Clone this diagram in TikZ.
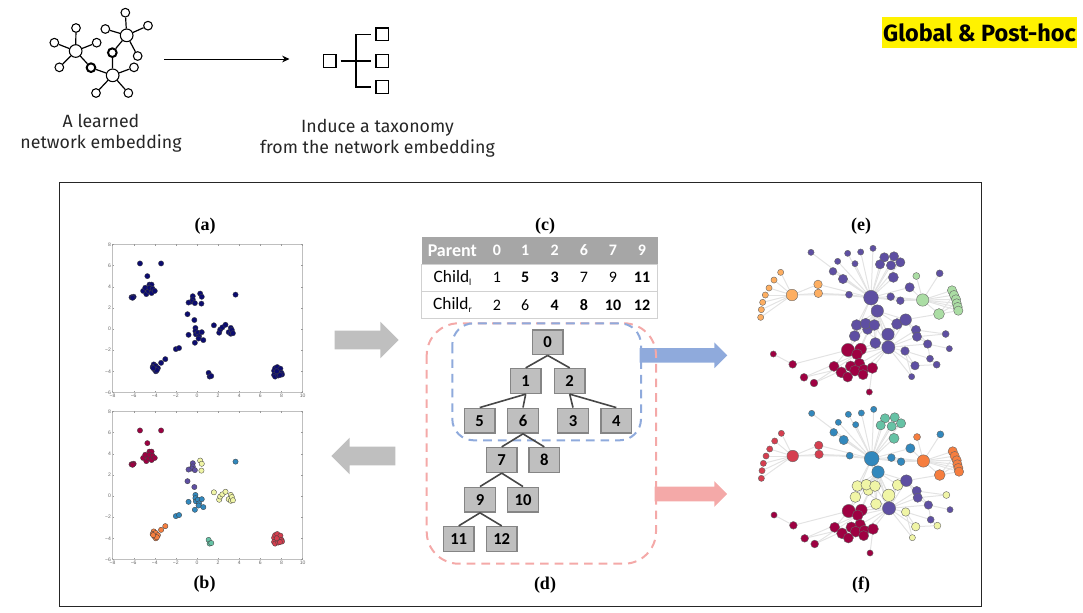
\documentclass[tikz,border=0pt]{standalone}
\usepackage{fontspec}
\setmainfont{Fira Sans}
\newfontfamily\tablefont{Carlito}
\newfontfamily\capfont{Liberation Serif}
\newfontfamily\tickfont{Liberation Sans}
\usetikzlibrary{arrows.meta,shapes.arrows,backgrounds}

\definecolor{crimson}{HTML}{9E0142}
\definecolor{redc}{HTML}{D53E4F}
\definecolor{orangec}{HTML}{F67E3F}
\definecolor{lightorange}{HTML}{FDAE61}
\definecolor{paleyellow}{HTML}{F0F5A6}
\definecolor{lightgreen}{HTML}{ABDDA4}
\definecolor{teal}{HTML}{66C2A5}
\definecolor{bluec}{HTML}{3288BD}
\definecolor{purplec}{HTML}{5E4FA2}
\definecolor{navyc}{HTML}{0C0C70}
\definecolor{boxblue}{HTML}{8FAADC}
\definecolor{boxpink}{HTML}{F4A9A8}

\tikzset{
    iconhub/.style={circle, draw=black, line width=0.8pt, fill=white, inner sep=0pt, minimum size=9.5pt},
    iconleaf/.style={iconhub, minimum size=6.5pt},
    iconbold/.style={iconleaf, line width=1.5pt},
    iconbox/.style={rectangle, draw=black, line width=0.9pt, inner sep=0pt, minimum size=9.5pt},
    iconline/.style={black, line width=0.9pt},
    headtext/.style={align=center, font=\fontsize{13.3}{15.75}\selectfont, text=black!85},
    figlabel/.style={font=\capfont\bfseries\fontsize{13.5}{15}\selectfont},
    tick/.style={font=\tickfont\fontsize{3.8}{4}\selectfont, text=black!60, inner sep=1pt},
    dot/.style={draw=black!75, line width=0.25pt},
    bigarrow/.style={single arrow, single arrow head extend=6.75pt, single arrow tip angle=90,
        inner xsep=0pt, inner ysep=6.75pt, minimum height=48pt, fill=black!25, draw=none, anchor=tail},
    colarrow/.style={bigarrow, single arrow head extend=4.2pt, inner ysep=5.25pt},
    treebox/.style={rectangle, draw=black!48, line width=1.2pt, fill=black!25, inner sep=0pt,
        minimum width=23pt, minimum height=18.5pt, font=\tablefont\bfseries\fontsize{12.5}{13}\selectfont},
    treeedge/.style={black!72, line width=1.2pt},
    dashbox/.style={dash pattern=on 6.5pt off 4.5pt, line width=1.5pt},
    cell/.style={font=\tablefont\fontsize{12}{13}\selectfont, inner sep=0pt},
    netnode/.style={circle, draw=black!60, line width=0.3pt, inner sep=0pt},
    netedge/.style={black!11, line width=0.75pt},
}

% Scatter points, one list for each class
\newcommand{\clusterA}{(-5.4,6.2),(-3.4,6.2),(-4.7,5),(-6.2,3),(-6,3.05),(-6.1,2.95),(-5.1,3.6),(-4.9,3.9),(-4.8,3.3),(-4.6,3.6),(-4.5,4.2),(-4.3,4.2),(-4.5,3.9),(-4.3,3.4),(-4.2,3.8),(-4,3.6)}
\newcommand{\clusterB}{(-0.4,3.1),(-0.4,2.8),(-0.5,2.6),(-0.8,2.5),(-0.2,2.45),(-0.9,1.4),(-0.25,0.85)}
\newcommand{\clusterC}{(0.3,3.35),(0.45,3.05),(0.42,2.4),(1.6,0.35),(2.1,-0.35),(2.2,-0.05),(2.4,0.15),(2.7,0.4),(3,-0.3),(3.2,0.1),(3.2,-0.45),(3.3,-0.1),(3.4,-0.4)}
\newcommand{\clusterD}{(3.65,3.25),(-0.8,-0.55),(-0.15,0.1),(-0.15,-0.2),(-0.1,-0.5),(0.1,-0.35),(0.45,-0.3),(0.2,-0.7),(0.15,-0.9),(0.6,-1.05),(-0.2,-1.3),(-2,-1.9),(-1.7,-1.8)}
\newcommand{\clusterE}{(-3,-2.85),(-3.4,-3.2),(-4.1,-3.35),(-4.2,-3.6),(-3.9,-3.5),(-3.7,-3.7),(-4,-3.85),(-3.9,-4),(-3.8,-3.9),(-4.15,-3.7)}
\newcommand{\clusterF}{(1.1,-4.15),(1.2,-4.5),(1.35,-4.45)}
\newcommand{\clusterG}{(7.3,-3.95),(7.4,-3.7),(7.6,-3.6),(7.9,-3.75),(8,-4.15),(8.05,-4.3),(7.3,-4.35),(7.4,-4.5),(7.7,-4.4),(7.85,-4.35),(7.55,-4)}

% #1 is the prefix of the names, #2 the y of the origin, #3 to #9 the colours of the classes
\newcommand{\drawscatter}[9]{
    \begin{scope}[shift={(197,#2)}, x=7.92pt, y=7.93pt]
        \draw[black!25, line width=0.7pt] (-8,-6) rectangle (10,8);
        \foreach \x in {-8,-6,-4,-2,0,2,4,6,8,10}{
            \draw[black!40, line width=0.2pt] (\x,-6) -- (\x,-5.85);
            \draw[black!40, line width=0.2pt] (\x,8) -- (\x,7.85);
            \node[tick, below] (#1x\x) at (\x,-6) {\ifnum\x<0 −\the\numexpr-\x\relax\else\x\fi};
        }
        \foreach \y in {-6,-4,-2,0,2,4,6,8}{
            \draw[black!40, line width=0.2pt] (-8,\y) -- (-7.85,\y);
            \draw[black!40, line width=0.2pt] (10,\y) -- (9.85,\y);
            \node[tick, left] (#1y\y) at (-8,\y) {\ifnum\y<0 −\the\numexpr-\y\relax\else\y\fi};
        }
        \foreach \Point in \clusterA {\path[dot, fill=#3] \Point circle[radius=2pt];}
        \foreach \Point in \clusterB {\path[dot, fill=#4] \Point circle[radius=2pt];}
        \foreach \Point in \clusterC {\path[dot, fill=#5] \Point circle[radius=2pt];}
        \foreach \Point in \clusterD {\path[dot, fill=#6] \Point circle[radius=2pt];}
        \foreach \Point in \clusterE {\path[dot, fill=#7] \Point circle[radius=2pt];}
        \foreach \Point in \clusterF {\path[dot, fill=#8] \Point circle[radius=2pt];}
        \foreach \Point in \clusterG {\path[dot, fill=#9] \Point circle[radius=2pt];}
    \end{scope}
}

% Network: name/x/y/radius/colour in (e)/colour in (f)
\newcommand{\netnodes}{o0/156/240/15/lightorange/redc, o1/234/208/11/lightorange/redc, o2/235/235/11/lightorange/redc,
    o3/122/172/8/lightorange/redc, o4/102/195/8/lightorange/redc, o5/87/219/8/lightorange/redc, o6/76/240/8/lightorange/redc,
    o7/68/262/8/lightorange/redc, o8/64/284/8/lightorange/redc, o9/62/307/8/lightorange/redc,
    h/393/248/19/purplec/bluec, h2/412/288/16/purplec/bluec,
    a1/213/112/8/purplec/bluec, a2/323/115/8/purplec/bluec, a3/362/111/8/purplec/bluec, a4/399/100/8/purplec/bluec,
    a5/293/139/8/purplec/bluec, a6/345/146/8/purplec/bluec, a7/279/169/10/purplec/bluec, a8/309/192/12/purplec/bluec, a9/327/239/9/purplec/bluec,
    t1/433/127/12/purplec/teal, t2/462/124/12/purplec/teal, t3/481/142/12/purplec/teal, t4/453/151/12/purplec/teal, t5/420/148/12/purplec/teal, t6/460/187/13/purplec/teal,
    b1/509/217/12/purplec/bluec, b2/452/245/10/purplec/bluec, b3/481/257/10/purplec/bluec, b4/599/175/9/purplec/bluec,
    g1/529/183/9/lightgreen/orangec, g2/548/255/16/lightgreen/orangec, g3/597/297/14/lightgreen/orangec,
    g4/636/226/12/lightgreen/orangec, g5/642/240/12/lightgreen/orangec, g6/648/253/12/lightgreen/orangec,
    g7/650/265/12/lightgreen/orangec, g8/653/276/12/lightgreen/orangec, g9/655/287/12/lightgreen/orangec,
    y4/383/343/13/purplec/paleyellow, y1/350/330/14/purplec/paleyellow, y2/377/326/14/purplec/paleyellow, y3/403/330/14/purplec/paleyellow,
    y5/344/363/14/purplec/paleyellow, y6/471/327/14/purplec/paleyellow, y7/444/358/16/purplec/paleyellow, y8/406/384/14/purplec/paleyellow,
    p/497/314/15/purplec/purplec, p2/445/397/17/purplec/purplec,
    r1/528/345/12/purplec/purplec, r2/531/365/12/purplec/purplec, r3/563/387/11/purplec/purplec, r4/617/357/9/purplec/paleyellow,
    r5/628/401/8/purplec/purplec, r6/495/408/11/purplec/paleyellow, r7/570/431/9/purplec/purplec, r8/590/449/9/purplec/paleyellow,
    r9/525/452/11/purplec/paleyellow, r10/515/485/8/purplec/paleyellow,
    c1/324/405/17/crimson/crimson, c2/362/402/15/crimson/crimson, c3/351/418/14/crimson/crimson, c4/358/446/14/crimson/crimson,
    c5/332/454/14/crimson/crimson, c6/282/454/13/crimson/crimson, c7/304/472/14/crimson/crimson, c8/345/467/14/crimson/crimson,
    c9/371/463/13/crimson/crimson, c10/397/459/14/crimson/crimson, c11/323/486/13/crimson/crimson, c12/369/479/13/crimson/crimson,
    c13/100/417/8/crimson/crimson, c14/158/448/10/crimson/crimson, c15/192/487/10/crimson/crimson, c16/222/504/10/crimson/crimson, c17/388/531/8/crimson/crimson}
\newcommand{\netedges}{o0/o1, o0/o2, o0/o3, o0/o4, o0/o5, o0/o6, o0/o7, o0/o8, o0/o9, o1/h, o2/h, o2/a9, a9/h, o0/a9,
    h/a1, h/a2, h/a3, h/a4, h/a5, h/a6, h/a7, h/a8, h/t1, h/t2, h/t3, h/t4, h/t5, h/t6, h/b1, h/b2, h/b3, h/g2, h/h2,
    b2/g2, b3/g2, b4/g2, g1/g2, b1/g2, g2/g3, g2/g4, g2/g5, g2/g6, g2/g7, g2/g8, g2/g9, g3/g5, g3/g7, g3/g9, g3/p,
    h2/y1, h2/y2, h2/y3, h2/y4, h2/y5, h2/y6, h2/y7, h2/y8, h2/p, h2/p2, h2/c1, h2/c3, h/y1, h/y5, h/y8, h/p2, h/y7,
    p2/y1, p2/y3, p2/y6, p2/y7, p2/y8, p2/r1, p2/r2, p2/r3, p2/r6, p2/r9, p2/r10, p/r1, p/r2, p/y6, p/y7, p/p2,
    r1/r4, r2/r4, r3/r5, r3/r7, r6/r7, r7/r8, r9/r8, r6/r9, r2/r3, r6/r10, r1/r3,
    c13/c14, c14/c1, c15/c5, c16/c5, c6/c1, c17/c10, p2/c10, p2/c9, p2/c4, p2/c3, p2/c1, h2/c2, c15/c3, c16/c3, y5/c1, y8/c2}

% #1 is the prefix of the names, #2 the origin, #3 is \ce or \cf
\newcommand{\drawnet}[3]{
    \begin{scope}[shift={#2}, x=0.25pt, y=-0.25pt]
        \foreach \nn/\xx/\yy/\rr/\ce/\cf in \netnodes {
            \node[netnode, fill=#3, minimum size=\rr*0.58pt] (#1\nn) at (\xx,\yy) {};
        }
        \begin{scope}[on background layer]
            \foreach \aa/\bb in \netedges {
                \draw[netedge] (#1\aa) -- (#1\bb);
            }
        \end{scope}
    \end{scope}
}

\begin{document}
\begin{tikzpicture}[x=0.75pt, y=-0.75pt]
    \useasboundingbox (0,0) rectangle (1083,612);

    % Draw the network icon
    \begin{scope}[x=0.25pt, y=-0.25pt]
        \node[iconhub] (hubA) at (227,153) {};
        \node[iconhub] (hubB) at (338,226) {};
        \node[iconhub] (hubC) at (380,106) {};
        \foreach \nn/\xx/\yy/\hub in {la/228/84/hubA, lb/163/128/hubA, lc/290/128/hubA, ld/178/202/hubA,
            le/288/279/hubB, lf/385/279/hubB, lg/402/202/hubB,
            lh/376/38/hubC, li/316/87/hubC, lj/444/77/hubC, lk/413/168/hubC}{
            \node[iconleaf] (\nn) at (\xx,\yy) {};
            \draw[iconline] (\nn) -- (\hub);
        }
        \node[iconbold] (linkA) at (273,203) {};
        \node[iconbold] (linkB) at (337,158) {};
        \draw[iconline] (hubA) -- (linkA);
        \draw[iconline] (linkA) -- (hubB);
        \draw[iconline] (hubB) -- (linkB);
        \draw[iconline] (linkB) -- (hubC);

        % Draw the taxonomy icon
        \node[iconbox] (taxroot) at (989,183) {};
        \node[iconbox] (taxa) at (1147,103) {};
        \node[iconbox] (taxb) at (1147,183) {};
        \node[iconbox] (taxc) at (1147,261) {};
        \coordinate (taxup) at (1068,103);
        \coordinate (taxdown) at (1068,261);
        \draw[iconline, shorten <=3pt, shorten >=3.5pt] (taxroot) -- (taxb);
        \draw[iconline, shorten <=3.5pt, shorten >=3.5pt] (taxa) -- (taxup) -- (taxdown) -- (taxc);
    \end{scope}

    % Top arrow and texts
    \coordinate (topfrom) at (164,59);
    \coordinate (topto) at (289.5,59);
    \draw[-{Stealth[length=5.5pt,width=5pt]}, line width=0.6pt] (topfrom) -- (topto);
    \node[headtext] (embedtext) at (101,133) {A learned\\network embedding};
    \node[headtext] (taxtext) at (377.5,138) {Induce a taxonomy\\from the network embedding};
    \node[fill=yellow, minimum width=146.25pt, minimum height=22.8pt, inner sep=0pt,
        font=\bfseries\fontsize{17.6}{19}\selectfont] (tagtext) at (979.5,32.5) {Global \& Post-hoc};

    % Frame of the figure
    \draw[black!85, line width=0.6pt] (59.5,182) rectangle (981,606);

    % Figure labels
    \node[figlabel] (figa) at (205,226) {(a)};
    \node[figlabel] (figb) at (204.5,584.5) {(b)};
    \node[figlabel] (figc) at (545,226) {(c)};
    \node[figlabel] (figd) at (545,585) {(d)};
    \node[figlabel] (fige) at (861,226.5) {(e)};
    \node[figlabel] (figf) at (861,585) {(f)};

    % Scatter plots
    \drawscatter{pa}{329}{navyc}{navyc}{navyc}{navyc}{navyc}{navyc}{navyc}
    \drawscatter{pb}{496}{crimson}{purplec}{paleyellow}{bluec}{orangec}{teal}{redc}

    % Block arrows
    \node[bigarrow] (grayright) at (334.3,340) {};
    \node[bigarrow, shape border rotate=180] (grayleft) at (395.7,456) {};
    \node[colarrow, fill=boxblue, minimum height=65.8pt] (bluearrow) at (639.3,355.3) {};
    \node[colarrow, fill=boxpink, minimum height=54.5pt] (pinkarrow) at (654.3,494) {};

    % Dashed groups of the tree
    \draw[dashbox, boxpink, rounded corners=24pt] (426.7,323.3) rectangle (656,563.7);
    \draw[dashbox, boxblue, rounded corners=16pt] (452.3,323.3) rectangle (641,440.3);

    % Tree
    \foreach \nn/\xx/\yy in {0/547.7/342.3, 1/525.7/381, 2/569.7/381, 5/479.7/420.7, 6/523/420.7, 3/573/420.7,
        4/616.3/420.7, 7/501.7/460, 8/544.3/460, 9/480/499.7, 10/523/499.7, 11/458.7/539, 12/501.7/539}{
        \node[treebox] (n\nn) at (\xx,\yy) {\nn};
    }
    \foreach \pp/\cc in {0/1, 0/2, 1/5, 1/6, 2/3, 2/4, 6/7, 6/8, 7/9, 7/10, 9/11, 9/12}{
        \draw[treeedge] (n\pp.south) -- (n\cc.north);
    }

    % Table
    \node[fill=black!35, minimum width=176.8pt, minimum height=20.6pt, inner sep=0pt] (tabhead) at (539.8,251) {};
    \node[draw=black!18, line width=0.7pt, fill=white, minimum width=176.8pt, minimum height=19.7pt, inner sep=0pt] (tabrowl) at (539.8,277.9) {};
    \node[draw=black!18, line width=0.7pt, fill=white, minimum width=176.8pt, minimum height=20.5pt, inner sep=0pt] (tabrowr) at (539.8,304.7) {};
    \node[cell, text=white, font=\tablefont\bfseries\fontsize{13.5}{14}\selectfont] (hparent) at (452.3,251) {Parent};
    \node[cell, font=\tablefont\fontsize{13}{14}\selectfont] (hleft) at (452.5,278) {Child\raisebox{-2.5pt}{\scriptsize l}};
    \node[cell, font=\tablefont\fontsize{13}{14}\selectfont] (hright) at (452.5,305) {Child\raisebox{-2.5pt}{\scriptsize r}};
    \foreach \hh/\xx/\aa/\bb in {0/497/1/2, 1/525.3/\textbf{5}/6, 2/554.7/\textbf{3}/\textbf{4},
        6/584/7/\textbf{8}, 7/613/9/\textbf{10}, 9/642/\textbf{11}/\textbf{12}}{
        \node[cell, text=white, font=\tablefont\bfseries\fontsize{12}{13}\selectfont] (head\hh) at (\xx,250.5) {\hh};
        \node[cell] (left\hh) at (\xx,277.5) {\aa};
        \node[cell] (right\hh) at (\xx,305) {\bb};
    }

    % Networks
    \drawnet{ne}{(740,215)}{\ce}
    \drawnet{nf}{(740.7,376)}{\cf}
\end{tikzpicture}
\end{document}
